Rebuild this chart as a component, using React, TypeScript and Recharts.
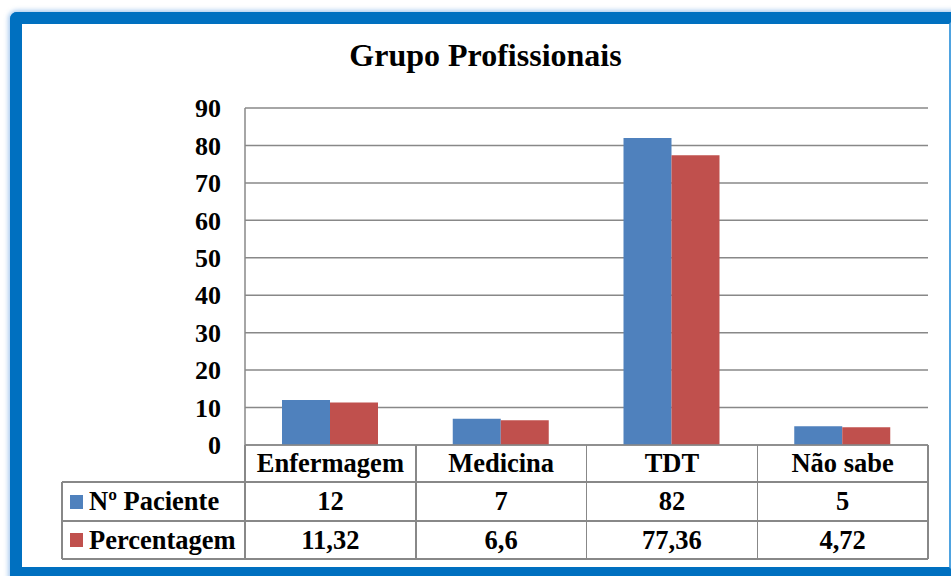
import React from "react"
import { BarChart, Bar, XAxis, YAxis, CartesianGrid } from "recharts"

const categories = ["Enfermagem", "Medicina", "TDT", "Não sabe"]
const pacientes = [12, 7, 82, 5]
const percentagem = [11.32, 6.6, 77.36, 4.72]
const pacientesLabels = ["12", "7", "82", "5"]
const percentagemLabels = ["11,32", "6,6", "77,36", "4,72"]
const yTicks = [0, 10, 20, 30, 40, 50, 60, 70, 80, 90]

const data = categories.map((name, i) => ({
  name,
  pacientes: pacientes[i],
  percentagem: percentagem[i],
}))

const W = 951
const H = 576
const FONT = "'Liberation Serif', 'Times New Roman', serif"
const GRID = "#888888"
const BLUE = "#4F81BD"
const RED = "#C0504D"

// plot area
const tableLeft = 62
const plotLeft = 245
const plotRight = 928
const plotTop = 108
const plotBottom = 445
const headerBottom = 482
const row1Bottom = 521
const row2Bottom = 559
const colW = (plotRight - plotLeft) / categories.length

function Line({ x, y, w, h }: { x: number; y: number; w: number; h: number }) {
  return <div style={{ position: "absolute", left: x, top: y, width: w, height: h, background: GRID }} />
}

function DataRow({ top, bottom, label, color, values }: { top: number; bottom: number; label: string; color: string; values: string[] }) {
  const h = bottom - top
  return (
    <>
      <div style={{ position: "absolute", left: tableLeft, top, width: plotLeft - tableLeft, height: h, display: "flex", alignItems: "center" }}>
        <span style={{ display: "inline-block", width: 13, height: 14, background: color, marginLeft: 8, marginRight: 6 }} />
        <span style={{ fontSize: 26.5, fontWeight: "bold" }}>{label}</span>
      </div>
      {values.map((v, i) => (
        <div
          key={i}
          style={{
            position: "absolute",
            left: plotLeft + i * colW,
            top,
            width: colW,
            height: h,
            display: "flex",
            alignItems: "center",
            justifyContent: "center",
            fontSize: 26.5,
            fontWeight: "bold",
          }}
        >
          {v}
        </div>
      ))}
    </>
  )
}

export default function App() {
  const cols = [0, 1, 2, 3, 4].map((i) => plotLeft + i * colW)
  return (
    <div style={{ position: "fixed", left: 0, top: 0, width: W, height: H, overflow: "hidden", background: "#fff", fontFamily: FONT, color: "#000" }}>
      {/* frame */}
      <div
        style={{
          position: "absolute",
          left: 10,
          top: 12,
          width: 951 + 10 - 10 - 24,
          height: 579 - 12 - 24,
          border: "12px solid #0070C0",
          borderRightColor: "#4FA3E0",
          borderTopLeftRadius: 7,
          boxShadow: "0 0 4px 2px rgba(110,165,225,0.55)",
          background: "#fff",
        }}
      />
      <div style={{ position: "absolute", left: 22, width: 927, top: 39, textAlign: "center", fontSize: 32, fontWeight: "bold", lineHeight: "32px" }}>
        Grupo Profissionais
      </div>
      <div style={{ position: "absolute", left: 0, top: 0 }}>
        <BarChart
          width={W}
          height={H}
          data={data}
          margin={{ top: plotTop, right: W - plotRight, bottom: H - headerBottom, left: tableLeft }}
          barGap={0}
          barSize={48}
        >
          <CartesianGrid vertical={false} stroke={GRID} strokeWidth={1.5} />
          <XAxis
            dataKey="name"
            height={headerBottom - plotBottom}
            axisLine={{ stroke: GRID, strokeWidth: 1.5 }}
            tickLine={false}
            interval={0}
            tick={{ fontSize: 26.5, fontWeight: "bold", fill: "#000", fontFamily: FONT }}
          />
          <YAxis
            width={plotLeft - tableLeft}
            domain={[0, 90]}
            ticks={yTicks}
            axisLine={{ stroke: GRID, strokeWidth: 1.5 }}
            tickLine={false}
            tickSize={6}
            tickMargin={18}
            tick={{ fontSize: 26, fontWeight: "bold", fill: "#000", fontFamily: FONT }}
          />
          <Bar dataKey="pacientes" name="Nº Paciente" fill={BLUE} isAnimationActive={false} />
          <Bar dataKey="percentagem" name="Percentagem" fill={RED} isAnimationActive={false} />
        </BarChart>
      </div>
      {/* data table */}
      <div style={{ position: "absolute", left: 0, top: 0, width: W, height: H, pointerEvents: "none" }}>
        {cols.map((x, i) => (
          <Line key={"hv" + i} x={x - 0.75} y={plotBottom} w={1.5} h={headerBottom - plotBottom} />
        ))}
        {cols.map((x, i) => (
          <Line key={"rv" + i} x={x - 0.75} y={headerBottom} w={1.5} h={row2Bottom - headerBottom} />
        ))}
        <Line x={tableLeft - 0.75} y={headerBottom} w={1.5} h={row2Bottom - headerBottom} />
        <Line x={tableLeft} y={headerBottom - 0.75} w={plotRight - tableLeft} h={1.5} />
        <Line x={tableLeft} y={row1Bottom - 0.75} w={plotRight - tableLeft} h={1.5} />
        <Line x={tableLeft} y={row2Bottom - 0.75} w={plotRight - tableLeft} h={1.5} />
        <DataRow top={headerBottom} bottom={row1Bottom} label="Nº Paciente" color={BLUE} values={pacientesLabels} />
        <DataRow top={row1Bottom} bottom={row2Bottom} label="Percentagem" color={RED} values={percentagemLabels} />
      </div>
    </div>
  )
}
